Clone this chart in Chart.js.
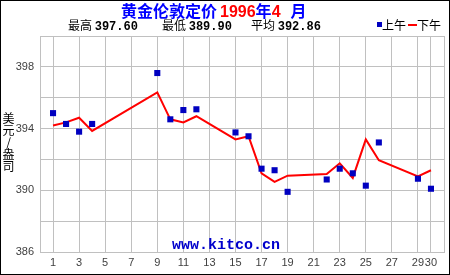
<!DOCTYPE html>
<html>
<head>
<meta charset="utf-8">
<script src="https://cdn.jsdelivr.net/npm/chart.js"></script>
<style>
  body { margin: 0; background: #fff; }
  #wrap { position: relative; width: 450px; height: 275px; background: #fff; }
  #chart { position: absolute; left: 0; top: 0; }
  #frame { position: absolute; left: 0; top: 0; width: 450px; height: 275px; box-sizing: border-box; border: 1px solid #000; pointer-events: none; }
  .txt { position: absolute; white-space: nowrap; }
  #title { left: 121px; top: 0px; font: bold 16px "Noto Sans CJK SC"; line-height: 20px; color: #0000ff; }
  #title .red { color: #ff0000; font-family: "Liberation Sans"; }
  .stat { top: 18px; font: 12px "Noto Sans CJK SC"; line-height: 14px; color: #000; }
  .stat b { font: bold 12px "Liberation Mono"; }
  #legend { left: 377px; top: 18px; font: 12px "Noto Sans CJK SC"; line-height: 14px; color: #000; }
  .sq { display: inline-block; width: 5px; height: 5px; background: #0000c0; vertical-align: 3px; }
  .dash { display: inline-block; width: 9px; height: 2px; background: #ff0000; vertical-align: 4px; margin-left: 2px; }
  #ytitle { left: 2px; top: 112px; width: 13px; font: 12px "Noto Sans CJK SC"; line-height: 12px; text-align: center; white-space: normal; }
  #site { left: 172px; top: 237px; font: bold 15px "Liberation Mono"; color: #0000cc; }
</style>
</head>
<body>
<div id="wrap">
  <canvas id="chart" width="450" height="275"></canvas>
  <div class="txt" id="title">黄金伦敦定价<span class="red" style="margin-left:3px">1996</span>年<span class="red">4</span><span style="margin-left:10px">月</span></div>
  <div class="txt stat" style="left:68px">最高 <b>397.60</b></div>
  <div class="txt stat" style="left:162px">最低 <b>389.90</b></div>
  <div class="txt stat" style="left:251px">平均 <b>392.86</b></div>
  <div class="txt" id="legend"><span class="sq"></span>上午<span class="dash"></span>下午</div>
  <div class="txt" id="ytitle">美<br>元<br>/<br>盎<br>司</div>
  <div class="txt" id="site">www.kitco.cn</div>
  <div id="frame"></div>
</div>
<script>
const days = [1, 2, 3, 4, 9, 10, 11, 12, 15, 16, 17, 18, 19, 22, 23, 24, 25, 26, 29, 30];
const amPrices = [395.0, 394.3, 393.8, 394.3, 397.6, 394.6, 395.2, 395.25, 393.75, 393.5,
                  391.4, 391.3, 389.9, 390.7, 391.4, 391.1, 390.3, 393.1, 390.75, 390.1];
const pmPrices = [394.2, 394.4, 394.7, 393.85, 396.35, 394.6, 394.4, 394.8, 393.3, 393.5,
                  391.1, 390.55, 390.95, 391.05, 391.75, 390.8, 393.3, 391.95, 390.9, 391.3];
const xTicks = [0, 1, 3, 5, 7, 9, 11, 13, 15, 17, 19, 21, 23, 25, 27, 29, 30, 31];
const yLabels = [386, 390, 394, 398];

const gridColor = '#c0c0c0';

new Chart(document.getElementById('chart'), {
  type: 'line',
  data: {
    datasets: [
      {
        label: '上午',
        data: days.map((d, i) => ({ x: d, y: amPrices[i] })),
        showLine: false,
        pointStyle: 'rect',
        pointRadius: 4.3,
        pointBackgroundColor: '#0000c0',
        pointBorderWidth: 0,
        order: 0
      },
      {
        label: '下午',
        data: days.map((d, i) => ({ x: d, y: pmPrices[i] })),
        borderColor: '#ff0000',
        borderWidth: 2,
        pointRadius: 0,
        tension: 0,
        fill: false,
        order: 1
      }
    ]
  },
  options: {
    responsive: false,
    animation: false,
    layout: { padding: { left: 0, top: 36, right: 6, bottom: 0 } },
    plugins: { legend: { display: false }, tooltip: { enabled: false } },
    scales: {
      x: {
        type: 'linear',
        min: 0,
        max: 31,
        afterBuildTicks: axis => { axis.ticks = xTicks.map(v => ({ value: v })); },
        afterFit: axis => { axis.height = 23; },
        ticks: {
          autoSkip: false,
          maxRotation: 0,
          padding: 4,
          color: '#404040',
          font: { family: 'Liberation Sans', size: 11 },
          callback: v => (v === 0 || v === 31) ? '' : v
        },
        grid: { color: gridColor, lineWidth: 1, drawTicks: false },
        border: { color: gridColor }
      },
      y: {
        min: 386,
        max: 400,
        ticks: {
          stepSize: 2,
          padding: 6,
          color: '#404040',
          font: { family: 'Liberation Sans', size: 11 },
          callback: v => yLabels.includes(v) ? v : ''
        },
        afterFit: axis => { axis.width = 40; },
        grid: { color: gridColor, lineWidth: 1, drawTicks: false },
        border: { color: gridColor }
      }
    }
  }
});
</script>
</body>
</html>
